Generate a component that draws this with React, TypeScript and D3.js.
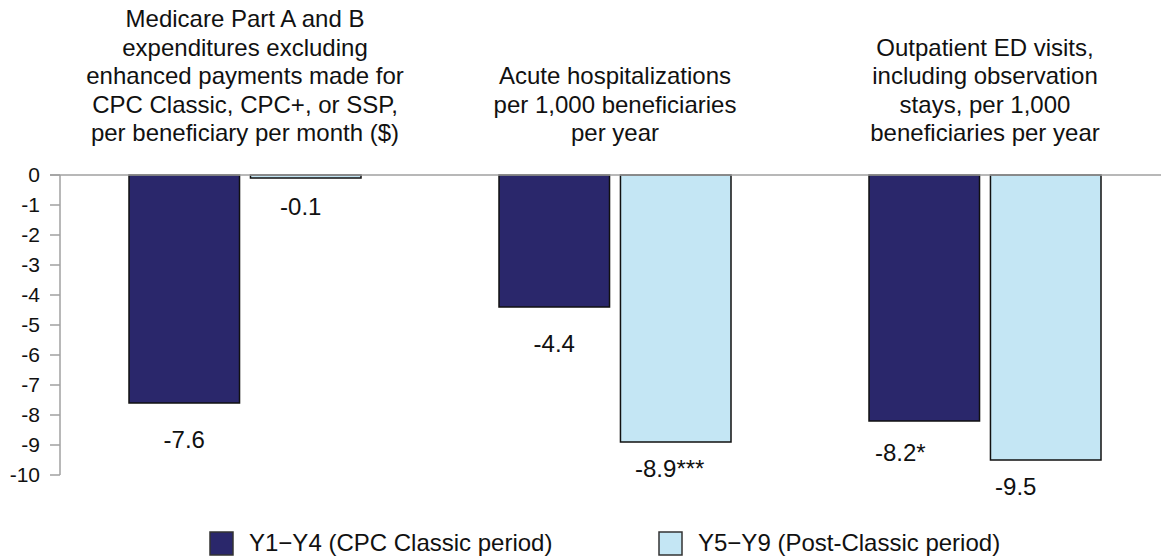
import React from "react";
import * as d3 from "d3";

const groups = [
  ["Medicare Part A and B", "expenditures excluding", "enhanced payments made for", "CPC Classic, CPC+, or SSP,", "per beneficiary per month ($)"],
  ["Acute hospitalizations", "per 1,000 beneficiaries", "per year"],
  ["Outpatient ED visits,", "including observation", "stays, per 1,000", "beneficiaries per year"],
];
const groupKeys = ["spend", "acute", "ed"];
const seriesNames = ["Y1\u2212Y4 (CPC Classic period)", "Y5\u2212Y9 (Post-Classic period)"];
const seriesKeys = ["y1y4", "y5y9"];
const classicValues = [-7.6, -4.4, -8.2];
const postValues = [-0.1, -8.9, -9.5];
const classicLabels = ["-7.6", "-4.4", "-8.2*"];
const postLabels = ["-0.1", "-8.9***", "-9.5"];
const yTicks = [0, -1, -2, -3, -4, -5, -6, -7, -8, -9, -10];

// style: per-label nudges (dx, dy) as in the reference
const classicLabelNudge = [[0, 37], [0, 37], [-24, 32]];
const postLabelNudge = [[-5, 29], [-6, 27], [-30, 27]];

const colors = ["#2a276b", "#c4e6f4"];
const FONT = "Arial, 'Liberation Sans', Helvetica, sans-serif";

export default function App() {
  const W = 1161, H = 558;
  const x0 = d3.scaleBand<string>().domain(groupKeys).range([60, 1170]).paddingInner(0).paddingOuter(0);
  const x1 = d3.scaleBand<string>().domain(seriesKeys).range([69, 301]).paddingInner(0.09).paddingOuter(0);
  const y = d3.scaleLinear().domain([-10, 0]).range([475, 175]);
  const values = [classicValues, postValues];
  const labels = [classicLabels, postLabels];
  const nudges = [classicLabelNudge, postLabelNudge];
  const lineH = 28.5;
  const lastBaseline = 141;

  return (
    <svg width={W} height={H} style={{ position: "absolute", left: 0, top: 0, background: "#fff" }} fontFamily={FONT}>
      {/* titles */}
      {groups.map((lines, gi) => {
        const cx = (x0(groupKeys[gi]) as number) + x0.bandwidth() / 2;
        return (
          <text key={gi} x={cx} textAnchor="middle" fontSize={24} fill="#111">
            {lines.map((ln, li) => (
              <tspan key={li} x={cx} y={lastBaseline - (lines.length - 1 - li) * lineH}>{ln}</tspan>
            ))}
          </text>
        );
      })}
      {/* y axis */}
      <line x1={60} x2={60} y1={y(0)} y2={y(-10)} stroke="#a0a0a0" strokeWidth={1.5} />
      {yTicks.map((t) => (
        <g key={t}>
          <line x1={50} x2={60} y1={y(t)} y2={y(t)} stroke="#a0a0a0" strokeWidth={1.5} />
          <text x={40} y={y(t)} dy="0.35em" textAnchor="end" fontSize={21} fill="#111">{t}</text>
        </g>
      ))}
      {/* bars */}
      {values.map((vals, si) =>
        vals.map((v, gi) => {
          const bx = (x0(groupKeys[gi]) as number) - 60 + (x1(seriesKeys[si]) as number) + 60;
          const bw = x1.bandwidth();
          const top = y(Math.max(0, v));
          const bottom = y(Math.min(0, v));
          return (
            <g key={`${si}-${gi}`}>
              <rect x={bx} y={top} width={bw} height={Math.max(bottom - top, 1)} fill={colors[si]} stroke="#111" strokeWidth={1.5} />
              <text x={bx + bw / 2 + nudges[si][gi][0]} y={bottom + nudges[si][gi][1]} dy="0.35em" textAnchor="middle" fontSize={24} fill="#111">
                {labels[si][gi]}
              </text>
            </g>
          );
        })
      )}
      {/* zero line */}
      <line x1={50} x2={W} y1={y(0)} y2={y(0)} stroke="#a0a0a0" strokeWidth={1.5} />
      {/* legend */}
      {seriesNames.map((name, i) => {
        const lx = [210, 659][i];
        return (
          <g key={name}>
            <rect x={lx} y={532} width={23} height={23} fill={colors[i]} stroke="#333" strokeWidth={1.5} />
            <text x={lx + 39} y={551} fontSize={24} fill="#111">{name}</text>
          </g>
        );
      })}
    </svg>
  );
}
